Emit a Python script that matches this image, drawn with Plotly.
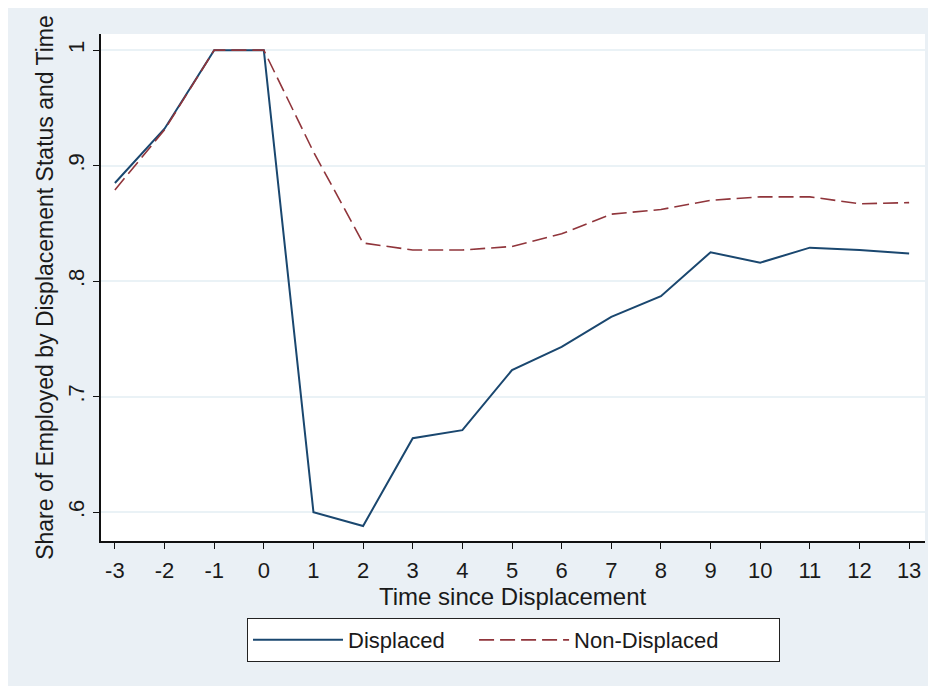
import plotly.graph_objects as go

time = [-3, -2, -1, 0, 1, 2, 3, 4, 5, 6, 7, 8, 9, 10, 11, 12, 13]
displaced = [0.885, 0.932, 1.0, 1.0, 0.600, 0.588, 0.664, 0.671, 0.723, 0.743,
             0.769, 0.787, 0.825, 0.816, 0.829, 0.827, 0.824]
non_displaced = [0.879, 0.931, 1.0, 1.0, 0.912, 0.833, 0.827, 0.827, 0.830, 0.841,
                 0.858, 0.862, 0.870, 0.873, 0.873, 0.867, 0.868]
y_ticks = [0.6, 0.7, 0.8, 0.9, 1.0]
y_labels = [".6", ".7", ".8", ".9", "1"]

FONT = "Liberation Sans, Arial, sans-serif"
BG = "#EAF0F5"
NB = "\u00a0"

fig = go.Figure()
fig.add_trace(go.Scatter(x=time, y=displaced, mode="lines", name="Displaced" + NB * 4,
                         line=dict(color="#1A476F", width=2)))
fig.add_trace(go.Scatter(x=time, y=non_displaced, mode="lines", name="Non-Displaced" + NB * 9,
                         line=dict(color="#90353B", width=1.6, dash="15px,6px")))

fig.update_layout(
    width=936, height=686,
    margin=dict(l=93, r=19, t=26, b=153),
    paper_bgcolor=BG, plot_bgcolor="white",
    font=dict(family=FONT, size=22, color="#1a1a1a"),
    showlegend=True,
    legend=dict(orientation="h", x=0.1772, xanchor="left", y=-0.152, yanchor="top",
                bgcolor="white", bordercolor="#222", borderwidth=1,
                font=dict(size=22), itemwidth=90, tracegroupgap=0),
    xaxis=dict(range=[-3.28, 13.32], tickmode="array", tickvals=time,
               ticktext=[str(t) for t in time], showgrid=False, zeroline=False,
               showline=True, linecolor="#111", linewidth=1.5,
               ticks="outside", ticklen=6, tickcolor="#111", ticklabelstandoff=3,
               tickfont=dict(size=22)),
    yaxis=dict(range=[0.575, 1.014], tickmode="array", tickvals=y_ticks,
               ticktext=y_labels, tickangle=-90, showgrid=True, gridcolor="#EAF2F6",
               gridwidth=1.5, zeroline=False, showline=True, linecolor="#111",
               linewidth=1.5, ticks="outside", ticklen=6, tickcolor="#111",
               tickfont=dict(size=22),
               title=dict(text="Share of Employed by Displacement Status and Time",
                          font=dict(size=23), standoff=4)),
    annotations=[dict(text="Time since Displacement", xref="paper", yref="paper",
                      x=0.5, y=-0.078, xanchor="center", yanchor="top",
                      showarrow=False, font=dict(size=24))],
)

fig.write_html("out.html")
